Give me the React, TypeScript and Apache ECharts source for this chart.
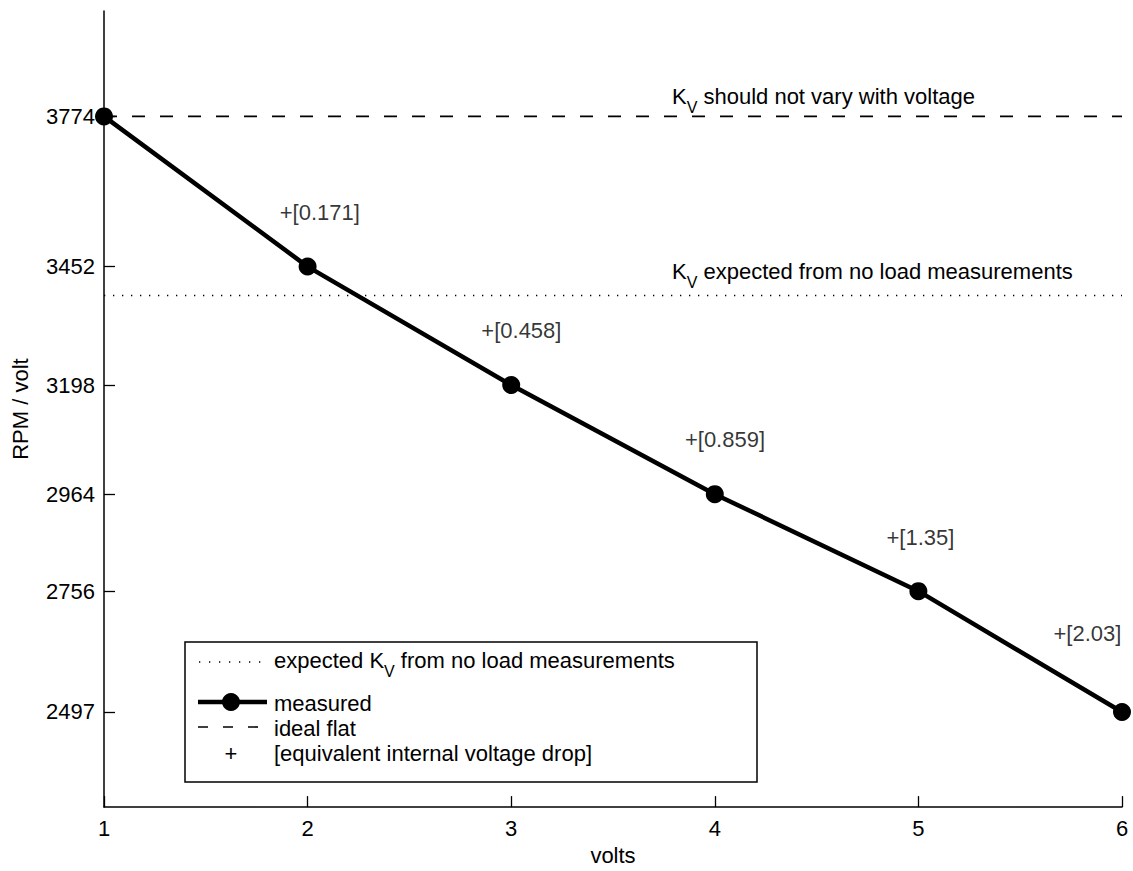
import React, { useEffect, useRef } from "react";
import * as echarts from "echarts";

const voltage = [1, 2, 3, 4, 5, 6];
const rpmPerVolt = [3774, 3452, 3198, 2964, 2756, 2497];
const idealFlat = 3774;
const expectedKv = 3390;
const yTicks = [2497, 2756, 2964, 3198, 3452, 3774];
const xTicks = [1, 2, 3, 4, 5, 6];
const dropValues = ["0.171", "0.458", "0.859", "1.35", "2.03"];
const dropLabelX = [2.06, 3.05, 4.05, 5.01, 5.83];
const dropLabelY = [3567, 3315, 3082, 2871, 2666];

const FONT = "'Liberation Sans', Arial, Helvetica, sans-serif";

const kvRich = {
  n: { fontSize: 22, fontFamily: FONT, color: "#000", verticalAlign: "middle", lineHeight: 38 },
  sub: { fontSize: 16, fontFamily: FONT, color: "#000", verticalAlign: "bottom", lineHeight: 38 },
};

export default function App() {
  const ref = useRef<HTMLDivElement>(null);
  useEffect(() => {
    if (!ref.current) return;
    const chart = echarts.init(ref.current, null, { renderer: "svg" });
    const measured = voltage.map((v, i) => [v, rpmPerVolt[i]]);
    const drops = dropValues.map((d, i) => [dropLabelX[i], dropLabelY[i], d]);
    chart.setOption({
      animation: false,
      backgroundColor: "#fff",
      grid: { left: 104, right: 11, top: 11, bottom: 61 },
      xAxis: {
        type: "value",
        min: 1,
        max: 6,
        interval: 1,
        name: "volts",
        nameLocation: "middle",
        nameGap: 35,
        nameTextStyle: { fontSize: 22, fontFamily: FONT, color: "#000" },
        axisLine: { show: true, lineStyle: { color: "#000", width: 1.5 } },
        axisTick: { show: true, inside: true, length: 11, lineStyle: { color: "#000", width: 1.3 }, customValues: xTicks },
        axisLabel: { fontSize: 22, fontFamily: FONT, color: "#000", margin: 10, customValues: xTicks },
        splitLine: { show: false },
      },
      yAxis: {
        type: "value",
        min: 2293,
        max: 4000,
        name: "RPM / volt",
        nameLocation: "middle",
        nameGap: 73,
        nameRotate: 90,
        nameTextStyle: { fontSize: 22, fontFamily: FONT, color: "#000" },
        axisLine: { show: true, lineStyle: { color: "#000", width: 1.5 } },
        axisTick: { show: true, inside: true, length: 11, lineStyle: { color: "#000", width: 1.3 }, customValues: yTicks },
        axisLabel: {
          fontSize: 22,
          fontFamily: FONT,
          color: "#000",
          margin: 9,
          customValues: yTicks,
          formatter: (v: number) => String(v),
        },
        splitLine: { show: false },
      },
      series: [
        {
          name: "expected",
          type: "line",
          data: [[1, expectedKv], [6, expectedKv]],
          symbol: "none",
          lineStyle: { color: "#000", width: 1.3, type: [1.3, 7.7] },
          z: 1,
        },
        {
          name: "ideal flat",
          type: "line",
          data: [[1, idealFlat], [6, idealFlat]],
          symbol: "none",
          lineStyle: { color: "#000", width: 1.6, type: [13, 15] },
          z: 1,
        },
        {
          name: "measured",
          type: "line",
          data: measured,
          symbol: "circle",
          symbolSize: 18,
          itemStyle: { color: "#000" },
          lineStyle: { color: "#000", width: 4.5 },
          z: 3,
        },
        {
          name: "drop",
          type: "scatter",
          data: drops,
          symbolSize: 0,
          itemStyle: { color: "transparent" },
          label: {
            show: true,
            position: "inside",
            fontSize: 22,
            fontFamily: FONT,
            color: "#000",
            textBorderWidth: 0,
            formatter: (p: any) => "+[" + p.data[2] + "]",
          },
          z: 4,
        },
      ],
      graphic: [
        {
          type: "text",
          x: 672,
          y: 96,
          style: {
            text: "{n|K}{sub|V}{n| should not vary with voltage}",
            rich: kvRich,
            verticalAlign: "middle",
          },
        },
        {
          type: "text",
          x: 672,
          y: 271,
          style: {
            text: "{n|K}{sub|V}{n| expected from no load measurements}",
            rich: kvRich,
            verticalAlign: "middle",
          },
        },
        {
          type: "rect",
          shape: { x: 185, y: 642, width: 572, height: 140 },
          style: { fill: "#fff", stroke: "#000", lineWidth: 1.5 },
          z: 10,
        },
        {
          type: "line",
          shape: { x1: 199, y1: 662, x2: 264, y2: 662 },
          style: { stroke: "#000", lineWidth: 1.3, lineDash: [1.3, 8.7] },
          z: 11,
        },
        {
          type: "text",
          x: 274,
          y: 660,
          style: {
            text: "{n|expected K}{sub|V}{n| from no load measurements}",
            rich: kvRich,
            verticalAlign: "middle",
          },
          z: 11,
        },
        {
          type: "line",
          shape: { x1: 198, y1: 702, x2: 267, y2: 702 },
          style: { stroke: "#000", lineWidth: 4.5 },
          z: 11,
        },
        {
          type: "circle",
          shape: { cx: 231, cy: 702, r: 9 },
          style: { fill: "#000" },
          z: 12,
        },
        {
          type: "text",
          x: 274,
          y: 703,
          style: { text: "measured", fontSize: 22, fontFamily: FONT, fill: "#000", verticalAlign: "middle" },
          z: 11,
        },
        {
          type: "line",
          shape: { x1: 198, y1: 727, x2: 268, y2: 727 },
          style: { stroke: "#000", lineWidth: 1.6, lineDash: [10, 15] },
          z: 11,
        },
        {
          type: "text",
          x: 274,
          y: 728,
          style: { text: "ideal flat", fontSize: 22, fontFamily: FONT, fill: "#000", verticalAlign: "middle" },
          z: 11,
        },
        {
          type: "text",
          x: 231,
          y: 753,
          style: { text: "+", fontSize: 22, fontFamily: FONT, fill: "#000", align: "center", verticalAlign: "middle" },
          z: 11,
        },
        {
          type: "text",
          x: 274,
          y: 753,
          style: {
            text: "[equivalent internal voltage drop]",
            fontSize: 22,
            fontFamily: FONT,
            fill: "#000",
            verticalAlign: "middle",
          },
          z: 11,
        },
      ],
    });
    return () => chart.dispose();
  }, []);
  return (
    <div
      ref={ref}
      style={{ position: "fixed", left: 0, top: 0, width: 1133, height: 871, background: "#fff" }}
    />
  );
}
